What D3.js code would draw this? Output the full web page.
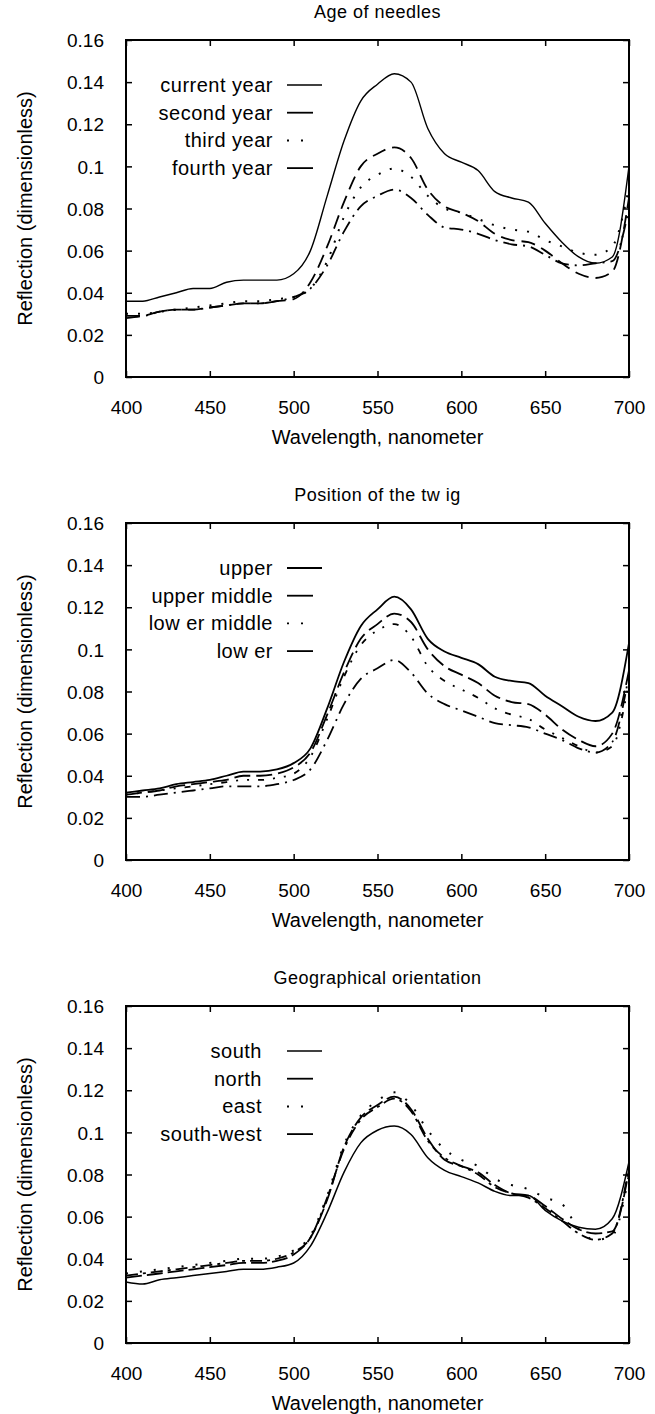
<!DOCTYPE html>
<html>
<head>
<meta charset="utf-8">
<script src="https://cdn.jsdelivr.net/npm/d3@7"></script>
<style>
  body { margin: 0; background: #fff; }
  text { font-family: "Liberation Sans", Arial, sans-serif; fill: #000; }
</style>
</head>
<body>
<div id="chart"></div>
<script>
/* wavelength grid, nm */
const wavelengths = [400,410,420,430,440,450,460,470,480,490,500,510,520,530,540,550,
  560,570,580,590,600,610,620,630,640,650,660,670,680,690,700];

/* panel 1: age of needles */
const currentYear = [0.036,0.036,0.038,0.040,0.042,0.042,0.045,0.046,0.046,0.046,0.049,0.060,0.086,0.112,0.131,0.139,
  0.144,0.140,0.118,0.106,0.102,0.098,0.088,0.085,0.083,0.073,0.064,0.057,0.054,0.057,0.100];
const secondYear = [0.028,0.029,0.031,0.032,0.032,0.033,0.034,0.035,0.035,0.036,0.037,0.045,0.062,0.083,0.100,0.106,
  0.109,0.104,0.089,0.081,0.078,0.074,0.068,0.065,0.064,0.060,0.054,0.049,0.047,0.050,0.085];
const thirdYear = [0.030,0.030,0.031,0.032,0.033,0.034,0.035,0.036,0.036,0.037,0.038,0.042,0.055,0.076,0.090,0.096,
  0.099,0.095,0.086,0.080,0.078,0.075,0.072,0.070,0.069,0.065,0.062,0.059,0.058,0.062,0.090];
const fourthYear = [0.029,0.029,0.031,0.032,0.032,0.033,0.034,0.035,0.035,0.036,0.038,0.042,0.053,0.069,0.081,0.086,
  0.089,0.085,0.077,0.071,0.070,0.068,0.065,0.063,0.062,0.058,0.054,0.053,0.054,0.055,0.080];

/* panel 2: position of the twig */
const upper = [0.032,0.033,0.034,0.036,0.037,0.038,0.040,0.042,0.042,0.043,0.046,0.053,0.072,0.094,0.111,0.119,
  0.125,0.119,0.105,0.099,0.096,0.093,0.087,0.085,0.084,0.078,0.073,0.068,0.066,0.070,0.103];
const upperMiddle = [0.031,0.032,0.033,0.035,0.036,0.037,0.038,0.040,0.040,0.041,0.044,0.051,0.069,0.089,0.105,0.112,
  0.117,0.113,0.100,0.092,0.088,0.084,0.078,0.075,0.074,0.069,0.062,0.057,0.054,0.060,0.090];
const lowerMiddle = [0.031,0.032,0.033,0.034,0.035,0.036,0.037,0.038,0.038,0.039,0.041,0.049,0.067,0.087,0.102,0.109,
  0.112,0.106,0.092,0.085,0.081,0.077,0.072,0.069,0.067,0.062,0.058,0.054,0.051,0.054,0.085];
const lower = [0.030,0.030,0.031,0.032,0.033,0.034,0.035,0.035,0.035,0.036,0.038,0.043,0.057,0.074,0.086,0.091,
  0.095,0.089,0.079,0.074,0.071,0.068,0.065,0.064,0.063,0.060,0.057,0.053,0.051,0.056,0.088];

/* panel 3: geographical orientation */
const south = [0.029,0.028,0.030,0.031,0.032,0.033,0.034,0.035,0.035,0.036,0.038,0.046,0.062,0.081,0.095,0.101,
  0.103,0.099,0.088,0.082,0.079,0.076,0.072,0.070,0.070,0.063,0.058,0.055,0.054,0.059,0.086];
const north = [0.031,0.032,0.033,0.034,0.035,0.036,0.037,0.038,0.038,0.039,0.042,0.050,0.068,0.093,0.107,0.113,
  0.117,0.111,0.097,0.087,0.084,0.081,0.075,0.071,0.070,0.065,0.059,0.054,0.052,0.053,0.082];
const east = [0.033,0.034,0.035,0.036,0.037,0.038,0.039,0.040,0.040,0.041,0.044,0.051,0.070,0.094,0.108,0.115,
  0.119,0.113,0.101,0.092,0.087,0.084,0.078,0.075,0.073,0.069,0.066,0.054,0.049,0.051,0.080];
const southWest = [0.032,0.033,0.034,0.035,0.036,0.037,0.038,0.039,0.039,0.040,0.043,0.050,0.069,0.092,0.106,0.112,
  0.116,0.110,0.096,0.088,0.084,0.080,0.074,0.071,0.069,0.064,0.058,0.052,0.049,0.052,0.084];

const xTicks = [400,450,500,550,600,650,700];
const yTicks = [0,0.02,0.04,0.06,0.08,0.1,0.12,0.14,0.16];

const panels = [
  { title: "Age of needles", legendEnd: 273, series: [
    { name: "current year", values: currentYear, dash: null, w: 1.4 },
    { name: "second year", values: secondYear, dash: "14,7", w: 1.8 },
    { name: "third year", values: thirdYear, dash: "2,10", w: 2 },
    { name: "fourth year", values: fourthYear, dash: "14,6,2,6", w: 1.8 } ] },
  { title: "Position of the tw ig", legendEnd: 273, series: [
    { name: "upper", values: upper, dash: null, w: 1.8 },
    { name: "upper middle", values: upperMiddle, dash: "16,6", w: 1.8 },
    { name: "low er middle", values: lowerMiddle, dash: "2,9,2,9,6,9", w: 1.8 },
    { name: "low er", values: lower, dash: "14,6,2,6", w: 1.8 } ] },
  { title: "Geographical orientation", legendEnd: 262, series: [
    { name: "south", values: south, dash: null, w: 1.5 },
    { name: "north", values: north, dash: "16,5", w: 1.8 },
    { name: "east", values: east, dash: "2,12", w: 2 },
    { name: "south-west", values: southWest, dash: "12,5,3,5", w: 1.8 } ] }
];

const W = 655, H = 1414;
const left = 126, right = 629;
const plotTop = 40, plotH = 337, step = 483;

const svg = d3.select("#chart").append("svg")
  .attr("width", W).attr("height", H);

const x = d3.scaleLinear().domain([400, 700]).range([left, right]);
const fmt = d => d === 0 ? "0" : String(+d.toFixed(2));

panels.forEach((p, i) => {
  const top = plotTop + i * step;
  const bottom = top + plotH;
  const y = d3.scaleLinear().domain([0, 0.16]).range([bottom, top]);
  const g = svg.append("g");

  /* title */
  g.append("text").attr("x", (left + right) / 2).attr("y", top - 22)
    .attr("text-anchor", "middle").style("font-size", "18px").style("letter-spacing", "0.5px")
    .text(p.title);

  /* axes, inward ticks on all four sides */
  const axB = g.append("g").attr("transform", `translate(0,${bottom})`)
    .call(d3.axisBottom(x).tickValues(xTicks).tickSize(-6).tickPadding(24).tickFormat(d3.format("d")));
  const axT = g.append("g").attr("transform", `translate(0,${top})`)
    .call(d3.axisTop(x).tickValues(xTicks).tickSize(-6).tickFormat(""));
  const axL = g.append("g").attr("transform", `translate(${left},0)`)
    .call(d3.axisLeft(y).tickValues(yTicks).tickSize(-6).tickPadding(22).tickFormat(fmt));
  const axR = g.append("g").attr("transform", `translate(${right},0)`)
    .call(d3.axisRight(y).tickValues(yTicks).tickSize(-6).tickFormat(""));
  [axB, axT, axL, axR].forEach(a => {
    a.select(".domain").remove();
    a.selectAll(".tick line").attr("stroke", "#000").attr("stroke-width", 1.5);
    a.selectAll("text").style("font-size", "19px").attr("font-family", null);
  });
  axL.selectAll("text").attr("dy", "0.35em");

  /* frame */
  g.append("rect").attr("x", left).attr("y", top)
    .attr("width", right - left).attr("height", plotH)
    .attr("fill", "none").attr("stroke", "#000").attr("stroke-width", 2);

  /* axis titles */
  g.append("text").attr("x", (left + right) / 2).attr("y", bottom + 67)
    .attr("text-anchor", "middle").style("font-size", "20px")
    .text("Wavelength, nanometer");
  g.append("text")
    .attr("transform", `translate(32,${(top + bottom) / 2}) rotate(-90)`)
    .attr("text-anchor", "middle").style("font-size", "20px")
    .text("Reflection (dimensionless)");

  /* curves */
  const line = d3.line()
    .x((d, k) => x(wavelengths[k]))
    .y(d => y(d))
    .curve(d3.curveMonotoneX);
  p.series.forEach(s => {
    g.append("path").datum(s.values)
      .attr("d", line)
      .attr("fill", "none").attr("stroke", "#000")
      .attr("stroke-width", s.w)
      .attr("stroke-dasharray", s.dash);
  });

  /* legend */
  p.series.forEach((s, k) => {
    const ly = top + 45 + k * 27.7;
    g.append("text").attr("x", p.legendEnd).attr("y", ly).attr("dy", "0.35em")
      .attr("text-anchor", "end").style("font-size", "20px").style("letter-spacing", "0.5px")
      .text(s.name);
    g.append("line").attr("x1", 287).attr("x2", k === 0 ? 322 : 313)
      .attr("y1", ly).attr("y2", ly)
      .attr("stroke", "#000").attr("stroke-width", s.w)
      .attr("stroke-dasharray", s.dash === null || s.dash.startsWith("1") ? null : "2,12");
  });
});
</script>
</body>
</html>
